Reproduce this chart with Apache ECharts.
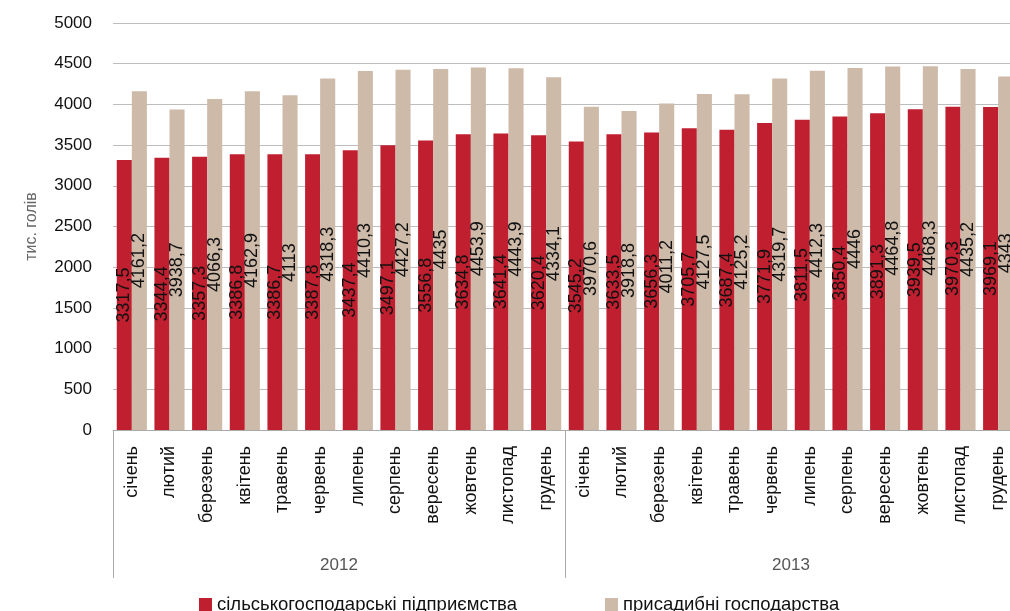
<!DOCTYPE html>
<html>
<head>
<meta charset="utf-8">
<script src="https://cdn.jsdelivr.net/npm/echarts@6/dist/echarts.min.js"></script>
<style>
html,body{margin:0;padding:0;background:#fff;}
#chart{width:1010px;height:611px;}
</style>
</head>
<body>
<div id="chart"></div>
<script>
const months = ['січень','лютий','березень','квітень','травень','червень','липень','серпень','вересень','жовтень','листопад','грудень'];
const years = ['2012','2013'];
const yTicks = [0, 500, 1000, 1500, 2000, 2500, 3000, 3500, 4000, 4500, 5000];
const enterprises2012 = [3317.5,3344.4,3357.3,3386.8,3386.7,3387.8,3437.4,3497.1,3556.8,3634.8,3641.4,3620.4];
const enterprises2013 = [3545.2,3633.5,3656.3,3705.7,3687.4,3771.9,3811.5,3850.4,3891.3,3939.5,3970.3,3969.1];
const households2012 = [4161.2,3938.7,4066.3,4162.9,4113,4318.3,4410.3,4427.2,4435,4453.9,4443.9,4334.1];
const households2013 = [3970.6,3918.8,4011.2,4127.5,4125.2,4319.7,4412.3,4446,4464.8,4468.3,4435.2,4343];
const seriesNames = ['сільськогосподарські підприємства','присадибні господарства'];

const categories = months.concat(months);
const enterprises = enterprises2012.concat(enterprises2013);
const households = households2012.concat(households2013);

const FONT = '"Liberation Sans", Arial, sans-serif';
const fmt = p => String(p.value).replace('.', ',');
const labelCfg = {
  show: true, position: 'inside', rotate: 90, formatter: fmt,
  color: '#111', fontSize: 18, fontFamily: FONT
};

const chart = echarts.init(document.getElementById('chart'), null, {renderer: 'canvas'});
chart.setOption({
  animation: false,
  textStyle: {fontFamily: FONT},
  grid: {left: 113, width: 904, top: 23, bottom: 181, containLabel: false, outerBoundsMode: 'none'},
  legend: {
    left: 194, top: 590, itemWidth: 13, itemHeight: 13, itemGap: 88,
    icon: 'rect',
    textStyle: {fontSize: 18.5, color: '#111', fontFamily: FONT},
    data: seriesNames
  },
  xAxis: [
    {
      type: 'category', data: categories, position: 'bottom',
      axisLine: {show: true, lineStyle: {color: '#aaa', width: 1}},
      axisTick: {show: false},
      axisLabel: {rotate: 90, interval: 0, margin: 16, fontSize: 18, color: '#111', fontFamily: FONT},
      splitLine: {show: false}
    },
    {
      type: 'category', data: years, position: 'bottom', gridIndex: 0,
      axisLine: {show: false},
      axisTick: {show: true, length: 148, interval: 0, lineStyle: {color: '#aaa', width: 1}},
      axisLabel: {margin: 127, fontSize: 17, color: '#555', fontFamily: FONT},
      splitLine: {show: false}
    }
  ],
  yAxis: {
    type: 'value', min: yTicks[0], max: yTicks[yTicks.length - 1], interval: yTicks[1] - yTicks[0],
    name: 'тис. голів', nameLocation: 'middle', nameRotate: 90, nameGap: 73,
    nameTextStyle: {fontSize: 16, color: '#666', fontFamily: FONT},
    axisLine: {show: false}, axisTick: {show: false},
    axisLabel: {margin: 21, fontSize: 17, color: '#111', fontFamily: FONT, formatter: v => String(v)},
    splitLine: {show: true, lineStyle: {color: '#bdbdbd', width: 1}}
  },
  series: [
    {
      name: seriesNames[0], type: 'bar', xAxisIndex: 0, data: enterprises,
      barGap: '0%', barCategoryGap: '20%',
      itemStyle: {color: '#C01F30'},
      label: labelCfg
    },
    {
      name: seriesNames[1], type: 'bar', xAxisIndex: 0, data: households,
      barGap: '0%', barCategoryGap: '20%',
      itemStyle: {color: '#CDBAA9'},
      label: labelCfg
    }
  ]
});
</script>
</body>
</html>
